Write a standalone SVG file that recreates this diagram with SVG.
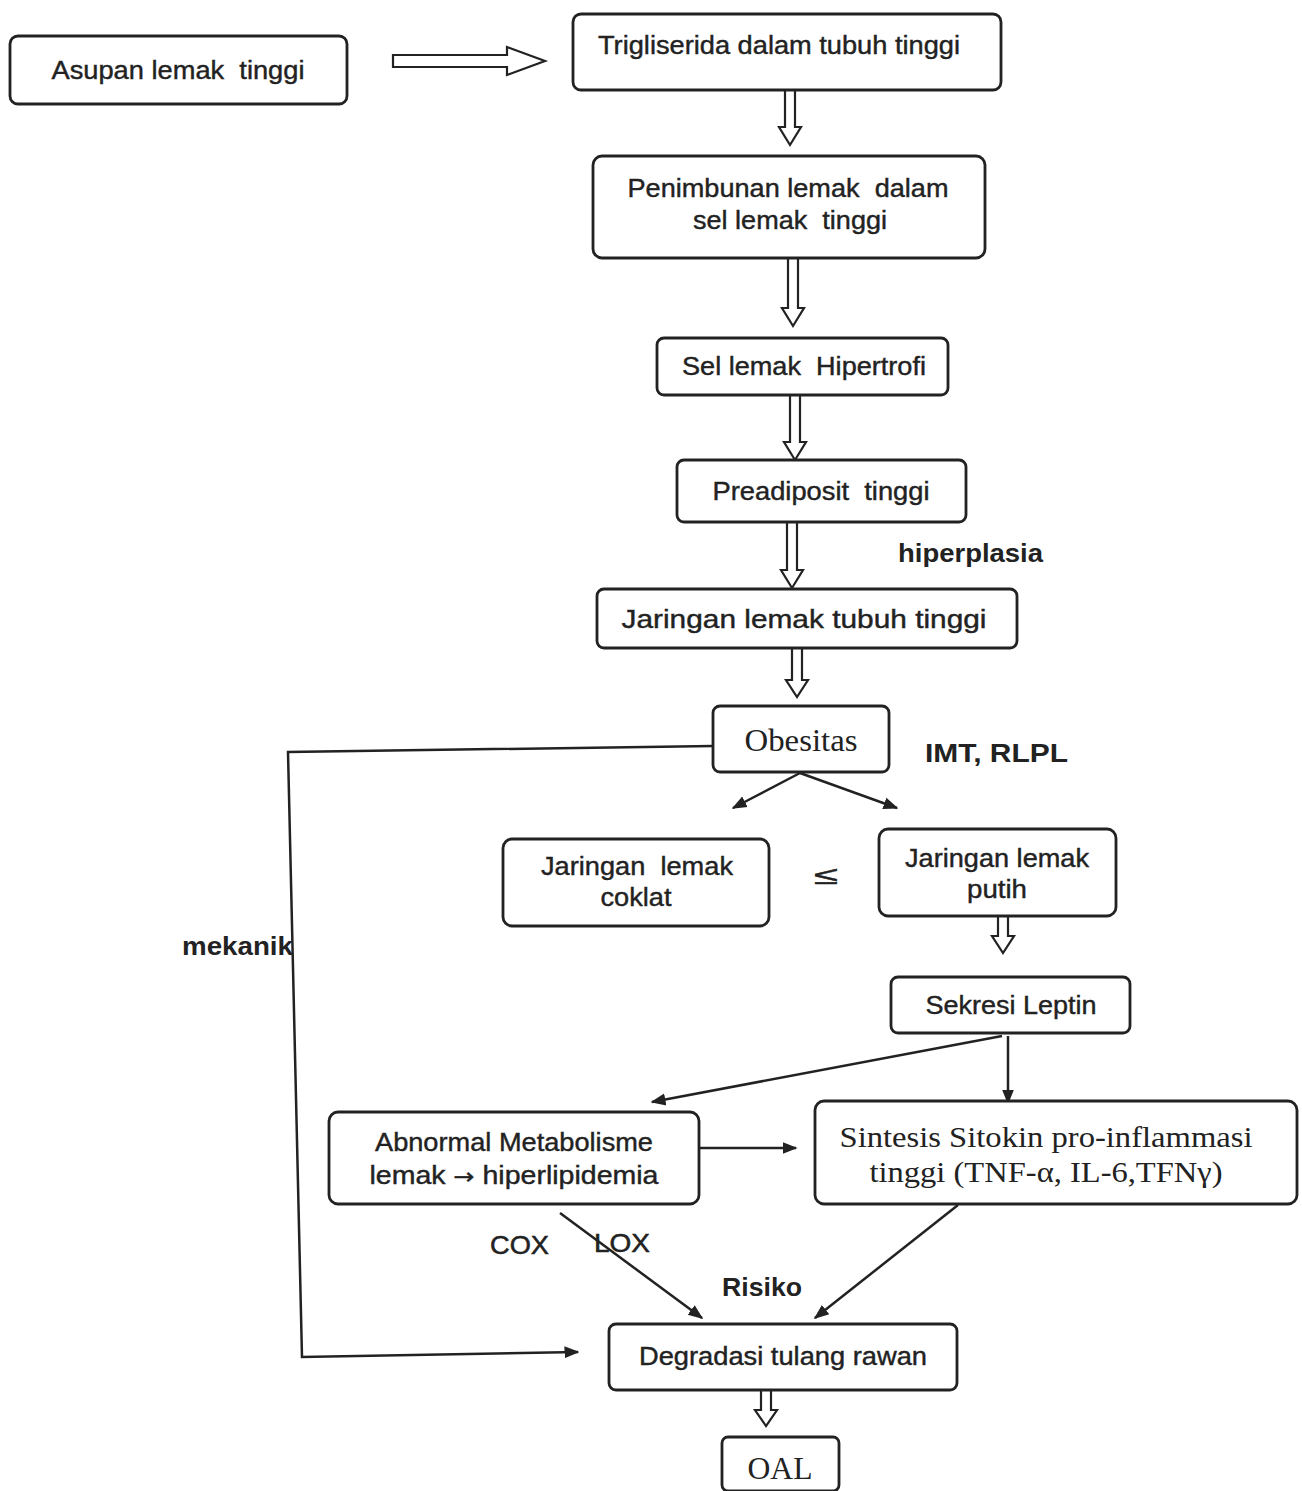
<svg xmlns="http://www.w3.org/2000/svg" width="1302" height="1491" viewBox="0 0 1302 1491">
<style>
.box{fill:#fff;stroke:#222;stroke-width:2.8}
.t{font-family:"Liberation Sans",Arial,sans-serif;font-size:25px;fill:#222;stroke:#222;stroke-width:0.4;text-anchor:middle;white-space:pre}
.s{font-family:"Liberation Serif","Times New Roman",serif;fill:#222;text-anchor:middle}
.lbl{font-family:"Liberation Sans",Arial,sans-serif;font-size:25px;font-weight:bold;fill:#222}
.lr{font-family:"Liberation Sans",Arial,sans-serif;font-size:25px;fill:#222;stroke:#222;stroke-width:0.5}
.ln{fill:none;stroke:#222;stroke-width:2.5}
.ha{fill:#fff;stroke:#222;stroke-width:2.2;stroke-linejoin:miter}
</style>
<defs>
<marker id="ah" viewBox="0 0 10 10" refX="9" refY="5" markerWidth="6" markerHeight="6" orient="auto" markerUnits="strokeWidth">
<path d="M0,1 L10,5 L0,9 Z" fill="#222"/>
</marker>
</defs>
<rect width="1302" height="1491" fill="#fff"/>

<g id="connectors">
<path class="ha" d="M393,55 H507 V47 L545,61 L507,75 V67 H393 Z"/>
<path class="ha" d="M785,90 V127 H779 L790,145 L801,127 H795 V90"/>
<path class="ha" d="M788,258 V308 H782 L793,326 L804,308 H798 V258"/>
<path class="ha" d="M790,396 V442 H784 L795,460 L806,442 H800 V396"/>
<path class="ha" d="M787,522 V570 H781 L792,588 L803,570 H797 V522"/>
<path class="ha" d="M792,648 V680 H786 L797,697 L808,680 H802 V648"/>
<path class="ha" d="M998,916 V936 H992 L1003,953 L1014,936 H1008 V916"/>
<path class="ha" d="M761,1390 V1410 H755 L766,1426 L777,1410 H771 V1390"/>
<path class="ln" d="M800,773 L733,808" marker-end="url(#ah)"/>
<path class="ln" d="M800,773 L897,808" marker-end="url(#ah)"/>
<path class="ln" d="M1002,1036 L652,1102" marker-end="url(#ah)"/>
<path class="ln" d="M1008,1036 L1008,1103" marker-end="url(#ah)"/>
<path class="ln" d="M700,1148 L796,1148" marker-end="url(#ah)"/>
<path class="ln" d="M560,1213 L702,1318" marker-end="url(#ah)"/>
<path class="ln" d="M958,1205 L815,1318" marker-end="url(#ah)"/>
<path class="ln" d="M713,746 L288,752 L302,1357 L578,1352" marker-end="url(#ah)"/>
</g>

<g id="n-asupan"><rect class="box" x="10" y="36" width="337" height="68" rx="8"/><text class="t" x="178" y="79" textLength="253" lengthAdjust="spacingAndGlyphs">Asupan lemak  tinggi</text></g>
<g id="n-trigliserida"><rect class="box" x="573" y="14" width="428" height="76" rx="8"/><text class="t" x="779" y="54" textLength="362" lengthAdjust="spacingAndGlyphs">Trigliserida dalam tubuh tinggi</text></g>
<g id="n-penimbunan"><rect class="box" x="593" y="156" width="392" height="102" rx="9"/><text class="t" x="788" y="197" textLength="321" lengthAdjust="spacingAndGlyphs">Penimbunan lemak  dalam</text><text class="t" x="790" y="229" textLength="194" lengthAdjust="spacingAndGlyphs">sel lemak  tinggi</text></g>
<g id="n-sel"><rect class="box" x="657" y="338" width="291" height="57" rx="7"/><text class="t" x="804" y="375" textLength="244" lengthAdjust="spacingAndGlyphs">Sel lemak  Hipertrofi</text></g>
<g id="n-preadiposit"><rect class="box" x="677" y="460" width="289" height="62" rx="7"/><text class="t" x="821" y="500" textLength="217" lengthAdjust="spacingAndGlyphs">Preadiposit  tinggi</text></g>
<g id="n-jaringan"><rect class="box" x="597" y="589" width="420" height="59" rx="7"/><text class="t" x="804" y="628" textLength="365" lengthAdjust="spacingAndGlyphs">Jaringan lemak tubuh tinggi</text></g>
<g id="n-obesitas"><rect class="box" x="713" y="706" width="176" height="66" rx="7"/><text class="s" x="801" y="751" font-size="32" textLength="113" lengthAdjust="spacingAndGlyphs">Obesitas</text></g>
<g id="n-coklat"><rect class="box" x="503" y="839" width="266" height="87" rx="9"/><text class="t" x="637" y="875" textLength="192" lengthAdjust="spacingAndGlyphs">Jaringan  lemak</text><text class="t" x="636" y="906" textLength="71" lengthAdjust="spacingAndGlyphs">coklat</text></g>
<g id="n-putih"><rect class="box" x="879" y="829" width="237" height="87" rx="9"/><text class="t" x="997" y="867" textLength="184" lengthAdjust="spacingAndGlyphs">Jaringan lemak</text><text class="t" x="997" y="898" textLength="60" lengthAdjust="spacingAndGlyphs">putih</text></g>
<g id="n-leptin"><rect class="box" x="891" y="977" width="239" height="56" rx="7"/><text class="t" x="1011" y="1014" textLength="171" lengthAdjust="spacingAndGlyphs">Sekresi Leptin</text></g>
<g id="n-abnormal"><rect class="box" x="329" y="1112" width="370" height="92" rx="9"/><text class="t" x="514" y="1151" textLength="278" lengthAdjust="spacingAndGlyphs">Abnormal Metabolisme</text><text class="t" x="514" y="1184" textLength="289" lengthAdjust="spacingAndGlyphs">lemak <tspan font-family="DejaVu Sans, sans-serif" font-size="22">→</tspan> hiperlipidemia</text></g>
<g id="n-sintesis"><rect class="box" x="815" y="1101" width="482" height="103" rx="9"/><text class="s" x="1046" y="1147" font-size="30" textLength="413" lengthAdjust="spacingAndGlyphs">Sintesis Sitokin pro-inflammasi</text><text class="s" x="1046" y="1182" font-size="30" textLength="353" lengthAdjust="spacingAndGlyphs">tinggi (TNF-α, IL-6,TFNγ)</text></g>
<g id="n-degradasi"><rect class="box" x="609" y="1324" width="348" height="66" rx="7"/><text class="t" x="783" y="1365" textLength="288" lengthAdjust="spacingAndGlyphs">Degradasi tulang rawan</text></g>
<g id="n-oal"><rect class="box" x="722" y="1437" width="117" height="54" rx="6"/><text class="s" x="780" y="1479" font-size="31" textLength="65" lengthAdjust="spacingAndGlyphs">OAL</text></g>

<g id="labels">
<text class="lbl" x="898" y="562" textLength="145" lengthAdjust="spacingAndGlyphs">hiperplasia</text>
<text class="lbl" x="925" y="762" textLength="143" lengthAdjust="spacingAndGlyphs">IMT, RLPL</text>
<text class="lr" x="814" y="884" font-family="DejaVu Sans, sans-serif" font-size="76" stroke-width="0.6" textLength="24" lengthAdjust="spacingAndGlyphs">≤</text>
<text class="lbl" x="182" y="955" textLength="111" lengthAdjust="spacingAndGlyphs">mekanik</text>
<text class="lr" x="490" y="1254" textLength="59" lengthAdjust="spacingAndGlyphs">COX</text>
<text class="lr" x="594" y="1252" textLength="56" lengthAdjust="spacingAndGlyphs">LOX</text>
<text class="lbl" x="722" y="1296" textLength="80" lengthAdjust="spacingAndGlyphs">Risiko</text>
</g>
</svg>
